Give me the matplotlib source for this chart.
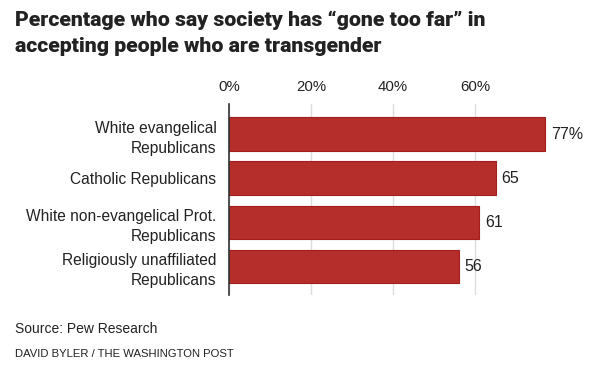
import matplotlib.pyplot as plt

categories = ['White evangelical\nRepublicans', 'Catholic Republicans',
              'White non-evangelical Prot.\nRepublicans',
              'Religiously unaffiliated\nRepublicans']
values = [77, 65, 61, 56]
value_labels = ['77%', '65', '61', '56']
ticks = [0, 20, 40, 60]
tick_labels = ['0%', '20%', '40%', '60%']

plt.rcParams['font.family'] = ['Liberation Sans', 'DejaVu Sans']

fig = plt.figure(figsize=(6, 3.66), dpi=100)
ax = fig.add_axes([229 / 600, 1 - 295 / 366, 369 / 600, 191 / 366])

y = list(range(len(categories)))
ax.barh(y, values, height=0.76, color='#b52e2b', edgecolor='#a31d1c',
        linewidth=0.8, zorder=3)
for yi, v, lab in zip(y, values, value_labels):
    ax.text(v + 1.5, yi, lab, va='center', ha='left', fontsize=11.5, color='#222222')

ax.set_xlim(0, 90)
ax.set_ylim(3.645, -0.68)
ax.set_yticks(y)
ax.set_yticklabels(categories, fontsize=11.2, color='#222222', linespacing=1.45)
ax.set_xticks(ticks)
ax.set_xticklabels(tick_labels, fontsize=10.8, color='#222222')
ax.xaxis.tick_top()
ax.tick_params(axis='x', length=0, pad=7)
ax.tick_params(axis='y', length=0, pad=9)
ax.grid(axis='x', color='#dddddd', linewidth=1, zorder=0)
for s in ['top', 'right', 'bottom']:
    ax.spines[s].set_visible(False)
ax.spines['left'].set_color('#333333')
ax.spines['left'].set_linewidth(1.2)
ax.spines['left'].set_zorder(4)

title_kw = dict(family=['Roboto', 'DejaVu Sans'], fontweight='black', fontsize=15.3,
                va='center', color='#222222')
fig.text(15 / 600, 1 - 20 / 366, 'Percentage who say society has \u201cgone too far\u201d in',
         **title_kw)
fig.text(15 / 600, 1 - 47 / 366, 'accepting people who are transgender', **title_kw)
fig.text(15 / 600, 1 - 329 / 366, 'Source: Pew Research', fontsize=10,
         va='center', color='#222222')
fig.text(15 / 600, 1 - 354 / 366, 'DAVID BYLER / THE WASHINGTON POST', fontsize=8.1,
         va='center', color='#222222')

fig.savefig('out.png', dpi=100)
